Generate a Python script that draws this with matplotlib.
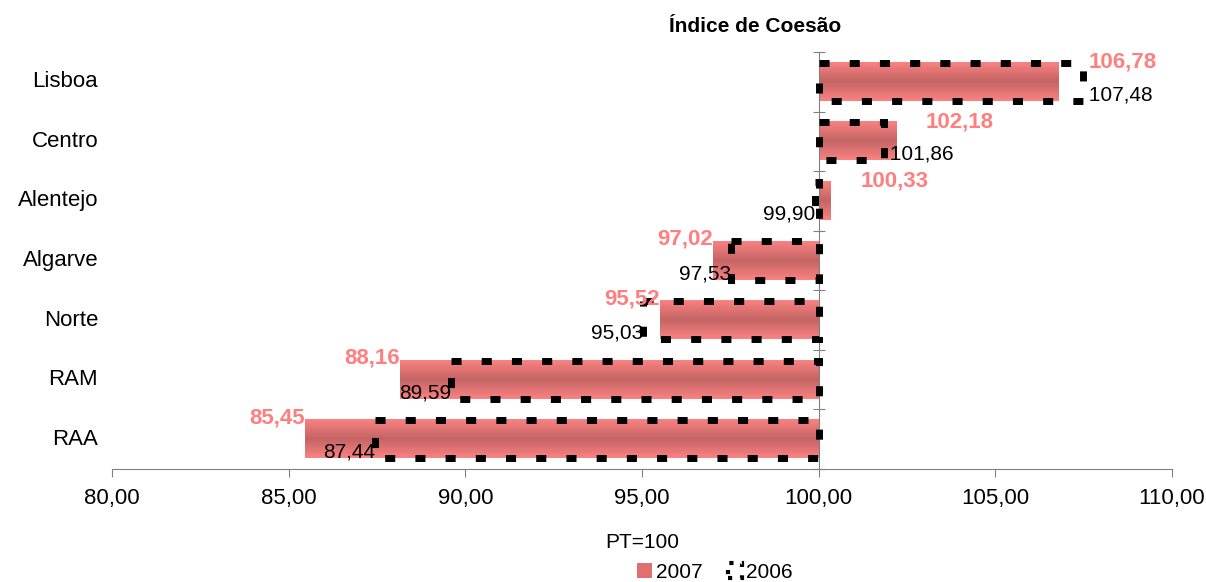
import matplotlib.pyplot as plt
from matplotlib.patches import Patch, Rectangle
from matplotlib.colors import LinearSegmentedColormap
from matplotlib import transforms
import numpy as np

plt.rcParams['font.family'] = ['Liberation Sans', 'DejaVu Sans']

regions = ["Lisboa", "Centro", "Alentejo", "Algarve", "Norte", "RAM", "RAA"]
idx_2007 = [106.78, 102.18, 100.33, 97.02, 95.52, 88.16, 85.45]
idx_2006 = [107.48, 101.86, 99.90, 97.53, 95.03, 89.59, 87.44]
base = 100.0
xticks = [80, 85, 90, 95, 100, 105, 110]


def fmt(v):
    return f"{v:.2f}".replace(".", ",")


fig = plt.figure(figsize=(12.06, 5.82), dpi=100)
ax = fig.add_axes([112 / 1206, 1 - 469 / 582, 1060 / 1206, 417 / 582])

n = len(regions)
y = np.arange(n)
h = 0.64

# vertical shading of the 2007 bars: light edges, darker middle
cmap = LinearSegmentedColormap.from_list("bar", ["#FA8282", "#C46464", "#FA8282"])
grad = np.linspace(0, 1, 64).reshape(-1, 1)

for yi, v7, v6 in zip(y, idx_2007, idx_2006):
    lo, hi = min(base, v7), max(base, v7)
    ax.imshow(grad, cmap=cmap, extent=[lo, hi, yi + h / 2, yi - h / 2],
              aspect='auto', interpolation='bilinear', zorder=2)
    lo6, hi6 = min(base, v6), max(base, v6)
    ax.add_patch(Rectangle((lo6, yi - h / 2), hi6 - lo6, h, fill=False,
                           edgecolor='black', linewidth=5,
                           linestyle=(0, (1.45, 2.9)), zorder=3))

    # value labels
    if v7 >= base:
        ax.text(v7 + 0.85, yi - 0.33, fmt(v7), color='#FF7F7F', fontsize=16,
                fontweight='bold', ha='left', va='center', zorder=4)
    else:
        ax.text(v7, yi - 0.36, fmt(v7), color='#FF7F7F', fontsize=16,
                fontweight='bold', ha='right', va='center', zorder=4)
    if v6 >= base:
        ax.text(v6, yi + 0.22, " " + fmt(v6), color='black',
                fontsize=15, ha='left', va='center', zorder=4)
    else:
        ax.text(v6, yi + 0.22, fmt(v6), color='black', fontsize=15,
                ha='right', va='center', zorder=4)

ax.set_xlim(80, 110)
ax.set_ylim(n - 0.5, -0.5)

# value axis crosses at 100
ax.spines['left'].set_position(('data', base))
ax.spines['top'].set_visible(False)
ax.spines['right'].set_visible(False)
ax.spines['left'].set_color('#808080')
ax.spines['bottom'].set_color('#808080')
ax.set_yticks(np.arange(n + 1) - 0.5)
ax.set_yticklabels([])
ax.tick_params(axis='y', direction='inout', length=8, color='#808080')
ax.set_xticks(xticks)
ax.set_xticklabels([fmt(t) for t in xticks], fontsize=16)
ax.tick_params(axis='x', direction='out', length=6, color='#808080', pad=8)

# category names sit at the left of the plot area
trans = transforms.blended_transform_factory(ax.transAxes, ax.transData)
for yi, name in zip(y, regions):
    ax.text(-0.013, yi, name, transform=trans, ha='right', va='center', fontsize=16)

ax.set_xlabel("PT=100", fontsize=15, labelpad=17)

fig.text(755 / 1206, 1 - 27 / 582, "Índice de Coesão", ha='center', va='center',
         fontsize=15, fontweight='bold')

handles = [Patch(facecolor='#E07070', edgecolor='none', label='2007'),
           Patch(facecolor='none', edgecolor='black', linewidth=3,
                 linestyle=(0, (1, 2)), label='2006')]
fig.legend(handles=handles, loc='center', bbox_to_anchor=(715 / 1206, 1 - 572 / 582),
           ncol=2, frameon=False, fontsize=15, handlelength=0.7, handletextpad=0.2,
           columnspacing=1.2)

fig.savefig("out.png", dpi=100)
